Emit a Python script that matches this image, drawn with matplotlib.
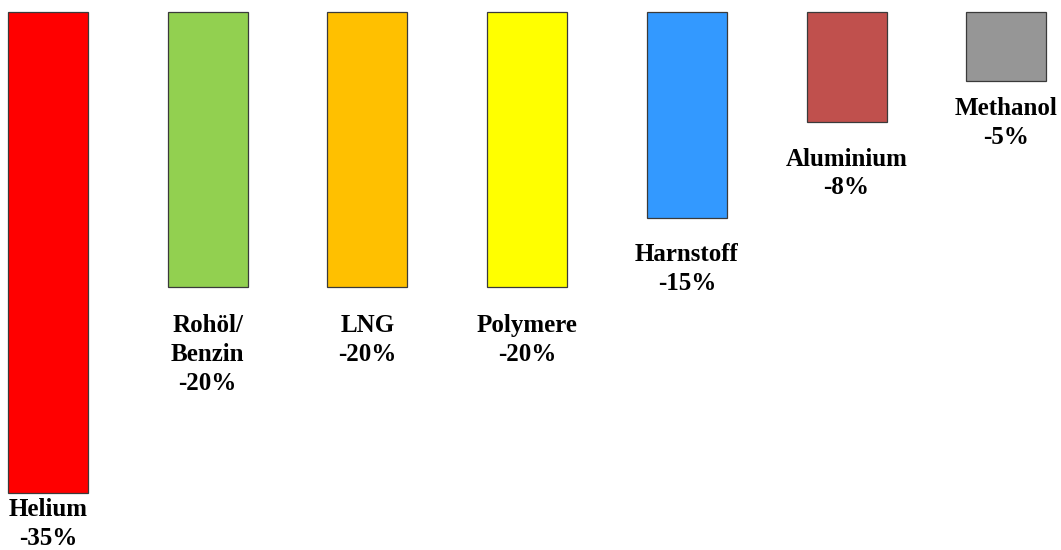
import matplotlib
matplotlib.use("Agg")
import matplotlib.pyplot as plt

categories = ["Helium", "Rohöl/\nBenzin", "LNG", "Polymere", "Harnstoff", "Aluminium", "Methanol"]
changes = [-35, -20, -20, -20, -15, -8, -5]
colors = ["#FF0000", "#92D050", "#FFC000", "#FFFF00", "#3399FF", "#C0504D", "#969696"]
# gap between bar end and its label, in points
label_gaps = [4, 19.5, 19.5, 19.5, 18, 18.5, 11.5]

fig = plt.figure(figsize=(10.61, 5.5), dpi=100)
ax = fig.add_axes([0, 0, 1, 1])

x = list(range(len(categories)))
ax.bar(x, changes, width=0.501, color=colors, edgecolor="#3a3a3a", linewidth=0.9)

for xi, name, val, gap in zip(x, categories, changes, label_gaps):
    ax.annotate(f"{name}\n{val}%", xy=(xi, val), xytext=(0, -gap),
                textcoords="offset points", ha="center", va="top",
                fontsize=18, fontweight="bold", family="Liberation Serif",
                linespacing=1.33)

ax.set_xlim(-0.3006, 6.343)
ax.set_ylim(-39.18, 0.874)
ax.axis("off")

fig.savefig("out.png", dpi=100)
